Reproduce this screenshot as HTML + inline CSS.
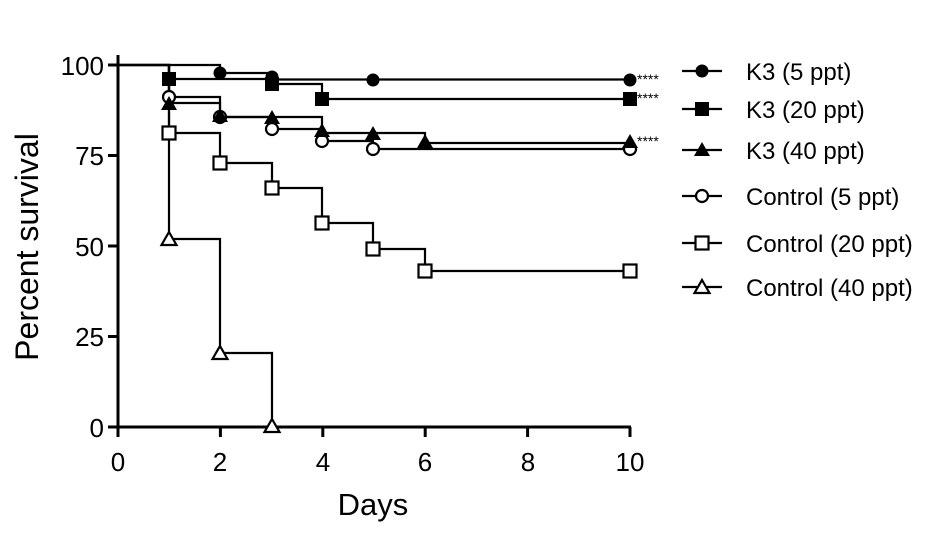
<!DOCTYPE html>
<html><head><meta charset="utf-8"><style>
html,body{margin:0;padding:0;background:#fff}
svg{display:block}
text{font-family:"Liberation Sans",Arial,sans-serif;fill:#000}
</style></head><body>
<svg width="935" height="541" viewBox="0 0 935 541" xmlns="http://www.w3.org/2000/svg">
<defs>
<circle id="fc" r="6.5" fill="#000"/>
<rect id="fs" x="-7" y="-7" width="14" height="14" fill="#000"/>
<polygon id="ft" points="0,-8 8,6 -8,6" fill="#000"/>
<circle id="oc" r="6" fill="#fff" stroke="#000" stroke-width="2.2"/>
<rect id="os" x="-6.5" y="-6.5" width="13" height="13" fill="#fff" stroke="#000" stroke-width="2.2"/>
<polygon id="ot" points="0,-7 7.5,6 -7.5,6" fill="#fff" stroke="#000" stroke-width="2.2"/>
</defs>
<g stroke="#000" stroke-width="3" fill="none">
<line x1="118" y1="55" x2="118" y2="428"/>
<line x1="117" y1="427" x2="631" y2="427"/>
<line x1="108" y1="65" x2="118" y2="65"/>
<line x1="108" y1="155.5" x2="118" y2="155.5"/>
<line x1="108" y1="246" x2="118" y2="246"/>
<line x1="108" y1="336.5" x2="118" y2="336.5"/>
<line x1="108" y1="427" x2="118" y2="427"/>
<line x1="118" y1="427" x2="118" y2="437"/>
<line x1="220.4" y1="427" x2="220.4" y2="437"/>
<line x1="322.8" y1="427" x2="322.8" y2="437"/>
<line x1="425.2" y1="427" x2="425.2" y2="437"/>
<line x1="527.6" y1="427" x2="527.6" y2="437"/>
<line x1="630" y1="427" x2="630" y2="437"/>
</g>
<g font-size="26" text-anchor="end">
<text x="104" y="75">100</text>
<text x="104" y="165">75</text>
<text x="104" y="256">50</text>
<text x="104" y="346">25</text>
<text x="104" y="437">0</text>
</g>
<g font-size="26" text-anchor="middle">
<text x="118" y="471">0</text>
<text x="220" y="471">2</text>
<text x="323" y="471">4</text>
<text x="425" y="471">6</text>
<text x="528" y="471">8</text>
<text x="630" y="471">10</text>
</g>
<text x="373" y="515" font-size="31" text-anchor="middle">Days</text>
<text transform="translate(38,247) rotate(-90)" font-size="32" text-anchor="middle">Percent survival</text>
<g stroke="#000" stroke-width="2.2" fill="none">
<polyline points="118,65 220,65 220,73 272,73 272,79.5 630,79.5"/>
<polyline points="118,65 169,65 169,79 272,79 272,84 322,84 322,99 630,99"/>
<polyline points="118,65 169,65 169,103 220,103 220,117 322,117 322,133 425,133 425,143 630,143"/>
<polyline points="118,65 169,65 169,97 220,97 220,117 272,117 272,129 322,129 322,141 373,141 373,149 630,149"/>
<polyline points="169,65 169,133 220,133 220,163 272,163 272,188 322,188 322,223 373,223 373,249 425,249 425,271 630,271"/>
<polyline points="169,65 169,239 220,239 220,353 272,353 272,427"/>
</g>
<use href="#fc" x="220" y="73"/><use href="#fc" x="272" y="77"/><use href="#fc" x="373" y="80"/><use href="#fc" x="630" y="80"/>
<use href="#fs" x="169" y="79"/><use href="#fs" x="272" y="84"/><use href="#fs" x="322" y="99"/><use href="#fs" x="630" y="99"/>
<use href="#oc" x="169" y="97"/><use href="#oc" x="220" y="117"/><use href="#oc" x="272" y="129"/><use href="#oc" x="322" y="141"/><use href="#oc" x="373" y="149"/><use href="#oc" x="630" y="149"/>
<use href="#ft" x="169" y="104"/><use href="#ft" x="220" y="116"/><use href="#ft" x="272" y="118"/><use href="#ft" x="322" y="131"/><use href="#ft" x="373" y="134"/><use href="#ft" x="425" y="142"/><use href="#ft" x="630" y="142"/>
<use href="#os" x="169" y="133"/><use href="#os" x="220" y="163"/><use href="#os" x="272" y="188"/><use href="#os" x="322" y="223"/><use href="#os" x="373" y="249"/><use href="#os" x="425" y="271"/><use href="#os" x="630" y="271"/>
<use href="#ot" x="169" y="239"/><use href="#ot" x="220" y="353"/><use href="#ot" x="272" y="426"/>
<g font-size="14"><text x="637" y="84">****</text><text x="637" y="103">****</text><text x="637" y="146">****</text></g>
<g stroke="#000" stroke-width="2.2">
<line x1="682" y1="71" x2="722" y2="71"/><line x1="682" y1="109" x2="722" y2="109"/><line x1="682" y1="150" x2="722" y2="150"/>
<line x1="682" y1="196" x2="722" y2="196"/><line x1="682" y1="243" x2="722" y2="243"/><line x1="682" y1="287" x2="722" y2="287"/>
</g>
<use href="#fc" x="702" y="71"/><use href="#fs" x="702" y="109"/><use href="#ft" x="702" y="150"/>
<use href="#oc" x="702" y="196"/><use href="#os" x="702" y="243"/><use href="#ot" x="702" y="287"/>
<g font-size="24">
<text x="746" y="80">K3 (5 ppt)</text>
<text x="746" y="118">K3 (20 ppt)</text>
<text x="746" y="159">K3 (40 ppt)</text>
<text x="746" y="205">Control (5 ppt)</text>
<text x="746" y="252">Control (20 ppt)</text>
<text x="746" y="296">Control (40 ppt)</text>
</g>
</svg>
</body></html>
